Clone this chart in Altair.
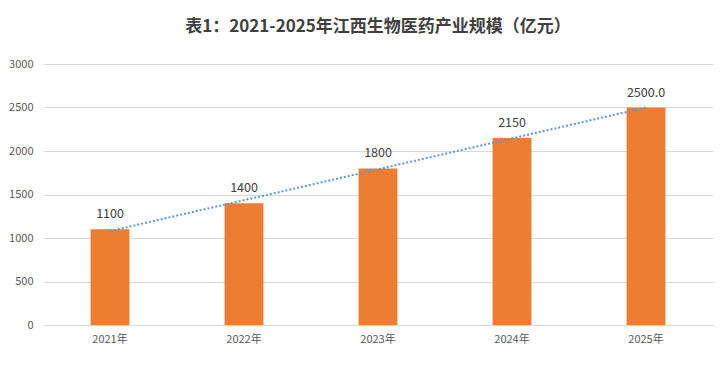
import altair as alt
import pandas as pd

years = [2021, 2022, 2023, 2024, 2025]
labels = ["2021年", "2022年", "2023年", "2024年", "2025年"]
values = [1100, 1400, 1800, 2150, 2500]
value_text = ["1100", "1400", "1800", "2150", "2500.0"]

df = pd.DataFrame({"year": years, "label": labels, "value": values, "text": value_text})

FONT = "Noto Sans CJK SC"

x = alt.X("label:N", sort=labels, title=None,
          scale=alt.Scale(paddingInner=0.71, paddingOuter=0.355),
          axis=alt.Axis(labelAngle=0, ticks=False, domainColor="#d9d9d9",
                        labelColor="#595959", labelFontSize=11, labelPadding=8,
                        labelFont=FONT, grid=False))
y = alt.Y("value:Q", title=None,
          scale=alt.Scale(domain=[0, 3000]),
          axis=alt.Axis(values=[0, 500, 1000, 1500, 2000, 2500, 3000], domain=False,
                        format="d", ticks=False, gridColor="#d9d9d9", labelColor="#595959",
                        labelFontSize=11, labelPadding=10, labelFont=FONT))

base = alt.Chart(df)
bars = base.mark_bar(color="#ed7d31").encode(x=x, y=y)
text = base.mark_text(dy=-15, fontSize=12.5, color="#404040", font=FONT).encode(
    x=alt.X("label:N", sort=labels), y="value:Q", text="text:N")
trend = base.transform_regression("year", "value").transform_calculate(
    label="datum.year + '年'").mark_line(
    color="#5b9bd5", strokeDash=[2, 2], strokeWidth=2).encode(
    x=alt.X("label:N", sort=labels), y="value:Q")

chart = alt.layer(bars, trend, text).properties(
    width=670, height=261,
    background="white",
    autosize=alt.AutoSizeParams(type="none"),
    padding={"left": 35, "top": 56, "right": 6, "bottom": 40},
    title=alt.Title("表1：2021-2025年江西生物医药产业规模（亿元）", fontSize=17,
                    font=FONT, fontWeight="bold", color="#404040", anchor="middle",
                    offset=22),
).configure_view(stroke=None)

chart.save("out.html", embed_options={"renderer": "svg", "actions": False})
